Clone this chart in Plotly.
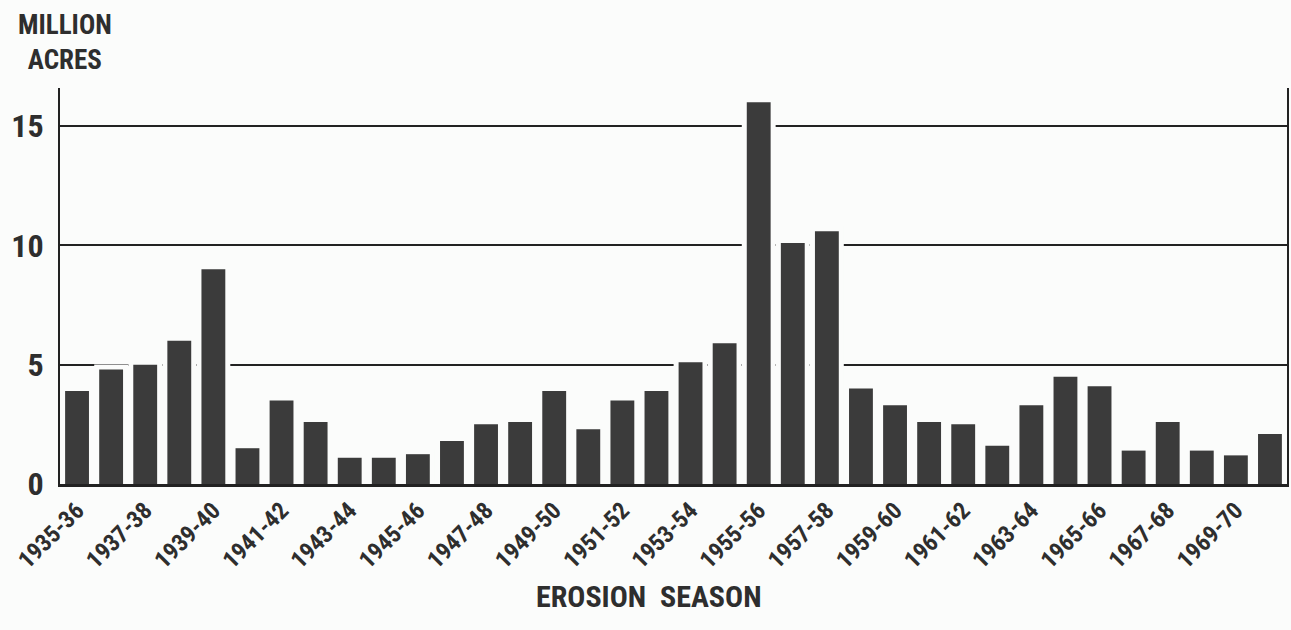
import plotly.graph_objects as go

# Erosion seasons, 1935-36 through 1970-71
seasons = [f"{y}-{str(y + 1)[-2:]}" for y in range(1935, 1971)]

# Area damaged by wind erosion, million acres
acres = [3.9, 4.8, 5.0, 6.0, 9.0, 1.5, 3.5, 2.6, 1.1, 1.1,
         1.25, 1.8, 2.5, 2.6, 3.9, 2.3, 3.5, 3.9, 5.1, 5.9,
         16.0, 10.1, 10.6, 4.0, 3.3, 2.6, 2.5, 1.6, 3.3, 4.5,
         4.1, 1.4, 2.6, 1.4, 1.2, 2.1]

# Every other season is labelled on the axis
tick_labels = seasons[::2]
y_ticks = [0, 5, 10, 15]

bg = "#fbfcfb"
ink = "#2e2e2e"
font_family = "Liberation Sans Narrow, Roboto Condensed, Roboto, DejaVu Sans"

fig = go.Figure()

# White halo behind each bar so grid lines break around it
fig.add_trace(go.Bar(
    x=seasons, y=acres, width=0.7,
    marker=dict(color=bg, line=dict(color=bg, width=10)),
    hoverinfo="skip", showlegend=False,
))
# The bars themselves
fig.add_trace(go.Bar(
    x=seasons, y=acres, width=0.7,
    marker=dict(color="#3b3b3b", line=dict(width=0)),
    showlegend=False,
))

fig.update_layout(
    width=1291, height=630,
    barmode="overlay",
    paper_bgcolor=bg, plot_bgcolor=bg,
    margin=dict(l=60, r=2, t=88, b=146),
    font=dict(family=font_family, color=ink),
)
fig.add_annotation(
    text="<b>MILLION</b><br><b>ACRES</b>", xref="paper", yref="paper",
    x=-0.036, y=1.205, xanchor="left", yanchor="top", align="center",
    showarrow=False, font=dict(size=27, family=font_family, color=ink),
)
fig.add_annotation(
    text="<b>EROSION  SEASON</b>", xref="paper", yref="paper",
    x=0.48, y=-0.235, xanchor="center", yanchor="top",
    showarrow=False, font=dict(size=30, family=font_family, color=ink),
)

fig.update_xaxes(
    type="category",
    range=[-0.5, len(seasons) - 0.5],
    tickmode="array", tickvals=tick_labels, ticktext=tick_labels,
    tickangle=-45,
    tickfont=dict(size=24, family=font_family, color=ink, weight="bold"),
    showgrid=False,
    showline=True, linecolor="#222", linewidth=3,
    ticks="", layer="above traces",
)
fig.update_yaxes(
    range=[0, 16.6],
    tickmode="array", tickvals=y_ticks,
    ticktext=[f"<b>{v}</b>" for v in y_ticks],
    tickfont=dict(size=32, family=font_family, color=ink),
    showgrid=True, gridcolor="#222", gridwidth=1.5,
    zeroline=False,
    showline=True, mirror=True, linecolor="#222", linewidth=2,
    ticks="", ticklabelstandoff=8,
)

fig.write_html("out.html")
